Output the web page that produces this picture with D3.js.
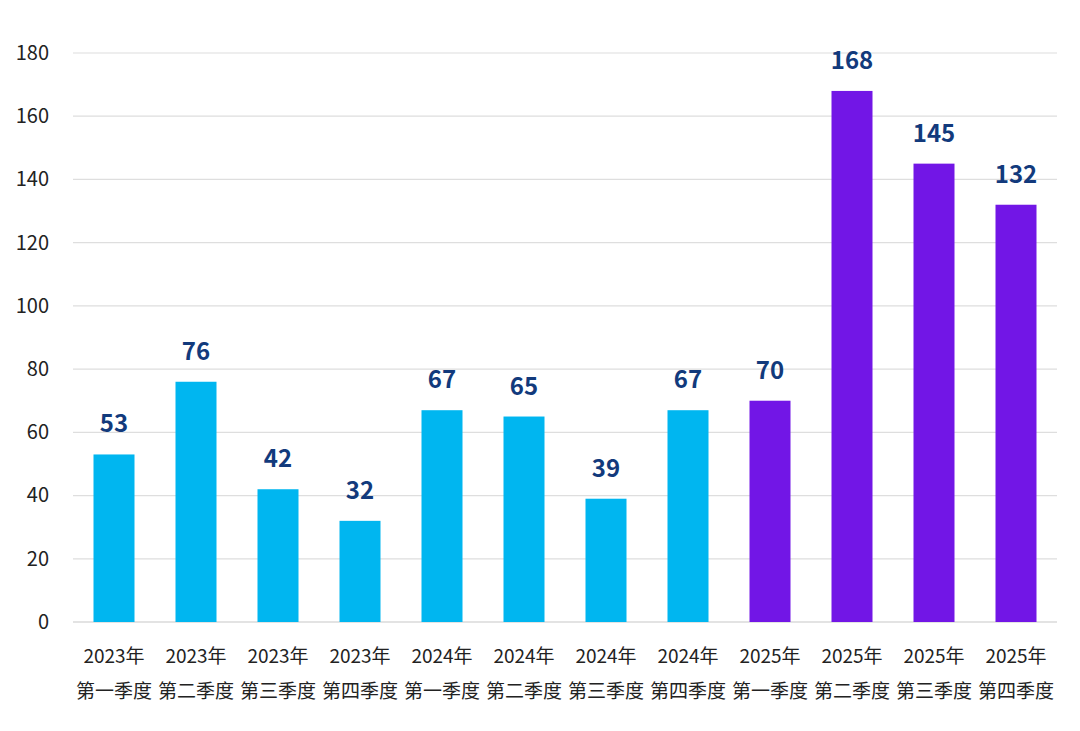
<!DOCTYPE html>
<html>
<head>
<meta charset="utf-8">
<script src="https://cdn.jsdelivr.net/npm/d3@7"></script>
<style>
  body { margin: 0; background: #fff; }
  text { font-family: "Noto Sans CJK SC", "Noto Sans", sans-serif; }
</style>
</head>
<body>
<div id="chart"></div>
<script>
// data
let years = ["2023年", "2023年", "2023年", "2023年", "2024年", "2024年", "2024年", "2024年", "2025年", "2025年", "2025年", "2025年"];
let quarters = ["第一季度", "第二季度", "第三季度", "第四季度", "第一季度", "第二季度", "第三季度", "第四季度", "第一季度", "第二季度", "第三季度", "第四季度"];
let values = [53, 76, 42, 32, 67, 65, 39, 67, 70, 168, 145, 132];
let yTicks = [0, 20, 40, 60, 80, 100, 120, 140, 160, 180];

let svgWidth = 1080;
let svgHeight = 731;
let margin = { top: 53, right: 23, bottom: 109, left: 73 };
let plot_width = svgWidth - margin.left - margin.right;
let plot_height = svgHeight - margin.top - margin.bottom;

let svg = d3.select("#chart").append("svg")
  .attr("width", svgWidth)
  .attr("height", svgHeight);

let chartGroup = svg.append("g")
  .attr("transform", `translate(${margin.left}, ${margin.top})`);

let idx = values.map((d, i) => i);

let xScale = d3.scaleBand()
  .domain(idx)
  .range([0, plot_width])
  .paddingInner(0.5)
  .paddingOuter(0.25);

let yScale = d3.scaleLinear()
  .domain([0, 180])
  .range([plot_height, 0]);

// gridlines
chartGroup.append("g")
  .selectAll("line")
  .data(yTicks)
  .enter()
  .append("line")
  .attr("x1", 0)
  .attr("x2", plot_width)
  .attr("y1", d => yScale(d))
  .attr("y2", d => yScale(d))
  .attr("stroke", d => d === 0 ? "#c8c8c8" : "#dedede")
  .attr("stroke-width", 1.2);

// y axis labels
let leftAxis = d3.axisLeft(yScale).tickValues(yTicks).tickSize(0).tickPadding(24);
let yAxisG = chartGroup.append("g").call(leftAxis);
yAxisG.select(".domain").remove();
yAxisG.selectAll("text")
  .attr("font-size", 20)
  .attr("fill", "#222")
  .style("font-family", "'Noto Sans CJK SC', 'Noto Sans', sans-serif");

// bars
chartGroup.selectAll("rect.bar")
  .data(values)
  .enter()
  .append("rect")
  .attr("class", "bar")
  .attr("x", (d, i) => xScale(i))
  .attr("y", d => yScale(d))
  .attr("width", xScale.bandwidth())
  .attr("height", d => plot_height - yScale(d))
  .attr("fill", (d, i) => years[i] === "2025年" ? "#7216e6" : "#00b6f0");

// value labels
chartGroup.selectAll("text.val")
  .data(values)
  .enter()
  .append("text")
  .attr("class", "val")
  .attr("x", (d, i) => xScale(i) + xScale.bandwidth() / 2)
  .attr("y", d => yScale(d) - 22)
  .attr("text-anchor", "middle")
  .attr("font-size", 24)
  .attr("font-weight", "bold")
  .attr("fill", "#123a7c")
  .text(d => d);

// category labels
let catG = chartGroup.selectAll("g.cat")
  .data(idx)
  .enter()
  .append("g")
  .attr("class", "cat")
  .attr("transform", i => `translate(${xScale(i) + xScale.bandwidth() / 2}, ${plot_height})`);

catG.append("text")
  .attr("y", 41)
  .attr("text-anchor", "middle")
  .attr("font-size", 19)
  .attr("fill", "#222")
  .text(i => years[i]);

catG.append("text")
  .attr("y", 76)
  .attr("text-anchor", "middle")
  .attr("font-size", 19)
  .attr("fill", "#222")
  .text(i => quarters[i]);
</script>
</body>
</html>
